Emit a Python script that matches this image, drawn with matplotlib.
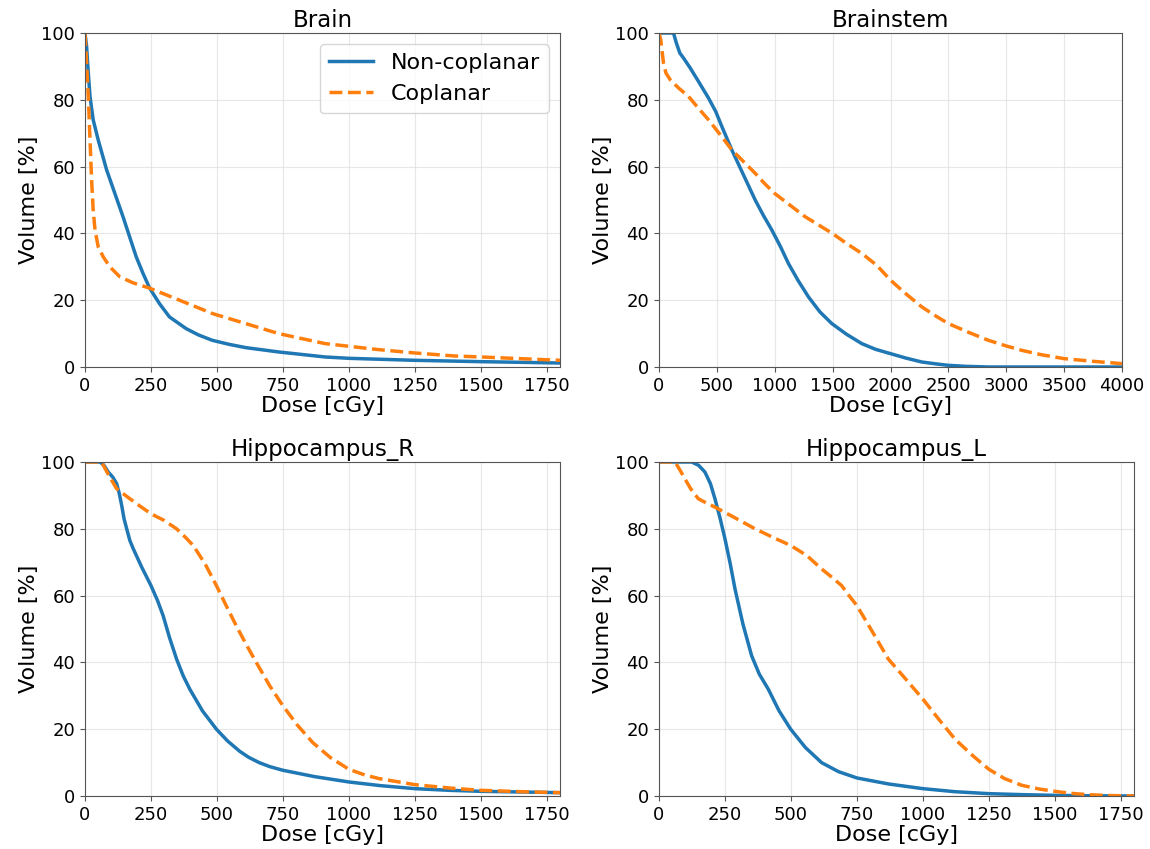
import matplotlib
matplotlib.use('Agg')
import matplotlib.pyplot as plt

# DVH points (dose in cGy, volume in %)
brain_nc_dose = [0, 6, 12.5, 19, 31, 50, 82, 113, 144, 169, 194, 220, 245, 282, 320, 383, 430,
                 482, 545, 609, 734, 910, 1000, 1250, 1500, 1800]
brain_nc_vol = [100, 96, 88, 81, 74, 68, 59, 52, 45, 39, 33, 28, 23.6, 19, 15, 11.5, 9.6,
                8, 6.8, 5.8, 4.5, 3, 2.6, 2.0, 1.6, 1.2]
brain_c_dose = [0, 6, 12.5, 19, 25, 31, 38, 50, 69, 94, 132, 182, 245, 358, 483, 609, 734, 910,
                1000, 1100, 1250, 1400, 1500, 1650, 1800]
brain_c_vol = [100, 91, 81, 68, 56, 47, 41, 36, 33, 30, 27, 25.2, 23.6, 20, 16, 13, 10, 7,
               6.2, 5.3, 4.2, 3.3, 3, 2.5, 2]

stem_nc_dose = [0, 125, 150, 180, 212, 270, 341, 428, 490, 543, 629, 730, 831, 900, 975, 1050,
                1118, 1200, 1291, 1390, 1493, 1620, 1752, 1870, 2000, 2130, 2270, 2400, 2500,
                2650, 2850, 4000]
stem_nc_vol = [100, 100, 97, 94, 92.5, 89.5, 85.5, 80.5, 76.5, 72, 65, 57.5, 50, 45.5, 41, 36,
               31, 26, 21, 16.5, 13, 9.8, 7, 5.3, 4, 2.7, 1.5, 0.9, 0.5, 0.2, 0, 0]
stem_c_dose = [0, 15, 25, 39, 60, 97, 170, 255, 340, 428, 530, 629, 730, 831, 910, 998, 1130,
               1262, 1380, 1498, 1620, 1752, 1880, 2000, 2130, 2270, 2380, 2500, 2680, 2845,
               3000, 3133, 3300, 3500, 3750, 4000]
stem_c_vol = [100, 98, 95, 91, 88, 86, 83.5, 81, 77.5, 74, 69.5, 65, 61.5, 58, 55, 52, 48.5,
              45, 42.5, 40, 37, 34, 30.5, 26, 22, 18, 15.5, 13, 10.3, 8,
              6.3, 5, 3.7, 2.5, 1.7, 1]

hr_nc_dose = [0, 57, 72, 88, 105, 120, 130, 139, 148, 158, 170, 183, 215, 250, 275, 296, 320,
              347, 372, 397, 445, 498, 540, 586, 620, 660, 700, 750, 870, 1000, 1120, 1250,
              1380, 1500, 1650, 1800]
hr_nc_vol = [100, 100, 99, 97, 95.5, 93.5, 90.5, 87, 83, 80, 76.5, 74, 68.5, 63, 58.5, 54, 47.5,
             41, 36, 32, 25.5, 20, 16.5, 13.4, 11.6, 10, 8.8, 7.7, 5.8, 4.2, 3.1, 2.2,
             1.7, 1.4, 1.2, 1]
hr_c_dose = [0, 63, 90, 120, 170, 210, 250, 300, 347, 380, 410, 455, 498, 535, 573, 610, 649,
             700, 750, 805, 863, 930, 1000, 1060, 1115, 1250, 1380, 1500, 1650, 1800]
hr_c_vol = [100, 100, 96, 92, 89, 86.7, 84.5, 82.5, 80, 77.5, 75, 69.5, 63, 57, 51, 45.5, 40,
            33, 27, 21.2, 16, 11.5, 8, 6.3, 5.2, 3.4, 2.4, 1.7, 1.3, 1]

hl_nc_dose = [0, 124, 150, 174, 195, 212, 232, 250, 270, 288, 318, 351, 380, 414, 455, 499,
              555, 616, 680, 750, 870, 1000, 1120, 1250, 1380, 1500, 1650, 1800]
hl_nc_vol = [100, 100, 99, 97, 93.5, 89, 83, 77, 69.5, 62, 51.5, 42, 36.5, 32, 25.5, 20,
             14.5, 10, 7.3, 5.4, 3.6, 2.2, 1.3, 0.7, 0.4, 0.2, 0.05, 0]
hl_c_dose = [0, 61, 80, 98, 120, 149, 180, 212, 290, 364, 430, 499, 560, 616, 655, 692, 720,
             750, 810, 869, 935, 1000, 1060, 1122, 1190, 1250, 1310, 1375, 1440, 1500, 1560,
             1628, 1700, 1800]
hl_c_vol = [100, 100, 97.5, 95, 92, 89, 87.7, 86.5, 83.2, 80, 77.5, 75, 72, 68, 65.5, 63, 60,
            57, 49, 41, 35, 29, 23, 17, 12, 8, 5.2, 3.2, 2.1, 1.4, 0.8,
            0.4, 0.15, 0]

titles = ["Brain", "Brainstem", "Hippocampus_R", "Hippocampus_L"]
xmax = [1800, 4000, 1800, 1800]
curves = [
    (brain_nc_dose, brain_nc_vol, brain_c_dose, brain_c_vol),
    (stem_nc_dose, stem_nc_vol, stem_c_dose, stem_c_vol),
    (hr_nc_dose, hr_nc_vol, hr_c_dose, hr_c_vol),
    (hl_nc_dose, hl_nc_vol, hl_c_dose, hl_c_vol),
]

W, H = 1150, 849
fig = plt.figure(figsize=(W / 100, H / 100), dpi=100)

# axes boxes in pixels: left, right, top, bottom
boxes = [(85, 560, 33, 367), (659, 1122, 33, 367),
         (85, 560, 462, 796), (659, 1134, 462, 796)]

for i, (box, title) in enumerate(zip(boxes, titles)):
    l, r, t, b = box
    ax = fig.add_axes([l / W, 1 - b / H, (r - l) / W, (b - t) / H])
    nd, nv, cd, cv = curves[i]
    ax.plot(nd, nv, color='#1f77b4', lw=2.5, label='Non-coplanar')
    ax.plot(cd, cv, color='#ff7f0e', lw=2.5, ls='--', label='Coplanar')
    ax.set_xlim(0, xmax[i])
    ax.set_ylim(0, 100)
    ax.set_title(title, fontsize=16.5, pad=4)
    ax.set_xlabel('Dose [cGy]', fontsize=16, labelpad=1)
    ax.set_ylabel('Volume [%]', fontsize=16, labelpad=2)
    ax.tick_params(labelsize=13, color='#555555')
    ax.grid(True, color='#dddddd', alpha=0.7, lw=0.8)
    for s in ax.spines.values():
        s.set_color('#555555')
    if i == 0:
        ax.legend(fontsize=16, loc='upper right', framealpha=0.8)

fig.savefig('out.png', dpi=100)
